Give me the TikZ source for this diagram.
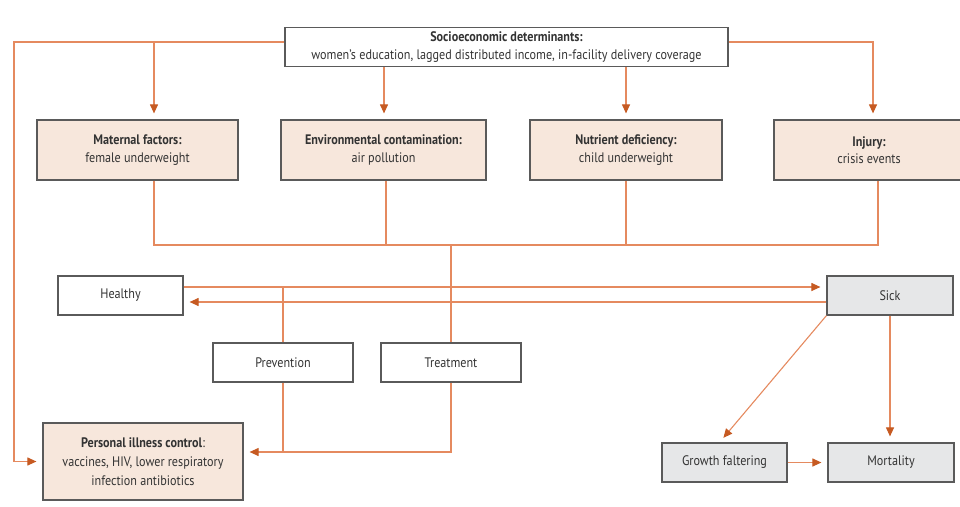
\documentclass[tikz,border=0pt]{standalone}
\usepackage{fontspec}
\setmainfont{PT Sans}[FakeStretch=0.88]
\usetikzlibrary{arrows.meta}

\definecolor{oranje}{HTML}{E58A5F}
\definecolor{punt}{HTML}{C65A22}
\definecolor{rand}{HTML}{5A5A5A}
\definecolor{beige}{HTML}{F7E7DC}
\definecolor{grijs}{HTML}{E6E7E8}
\definecolor{tekst}{HTML}{333333}

\tikzset{
	blok/.style = {draw = rand, line width = 1.2pt, inner sep = 0pt, minimum height = 39pt,
		align = center, text = tekst, font = \fontsize{13.8}{17.5}\selectfont},
	factor/.style = {blok, fill = beige, minimum height = 60pt},
	toestand/.style = {blok, fill = grijs},
	lijn/.style = {draw = oranje, line width = 1.1pt},
	pijl/.style = {lijn, shorten > = 6pt, -{Triangle[length = 9pt, width = 8pt, color = punt]}},
}

\begin{document}
\begin{tikzpicture}[x = 1pt, y = -1pt]
	%	canvas
	\clip (0, 0) rectangle (960, 506);
	
	%	determinanten
	\node[blok, minimum width = 443] (socio) at (506.5, 47)
		{\textbf{Socioeconomic determinants:}\\women’s education, lagged distributed income, in-facility delivery coverage};
	\node[factor, minimum width = 201] (maternal) at (137.5, 150) {\textbf{Maternal factors:}\\female underweight};
	\node[factor, minimum width = 205] (env) at (383.5, 150) {\textbf{Environmental contamination:}\\air pollution};
	\node[factor, minimum width = 192] (nutri) at (626, 150) {\textbf{Nutrient deficiency:}\\child underweight};
	\node[factor, minimum width = 190] (injury) at (869, 150) {\textbf{Injury:}\\crisis events};
	
	%	toestanden
	\node[blok, minimum width = 125] (healthy) at (120.5, 295.5) {Healthy};
	\node[toestand, minimum width = 126] (sick) at (890, 295.5) {Sick};
	\node[blok, minimum width = 140] (prev) at (283, 362.5) {Prevention};
	\node[blok, minimum width = 140] (treat) at (451, 362.5) {Treatment};
	\node[factor, minimum width = 200, minimum height = 77, font = \fontsize{13.8}{19}\selectfont] (personal) at (143, 461.5)
		{\textbf{Personal illness control}:\\vaccines, HIV, lower respiratory\\infection antibiotics};
	\node[toestand, minimum width = 125] (growth) at (724.5, 462.5) {Growth faltering};
	\node[toestand, minimum width = 126] (mort) at (891, 462.5) {Mortality};
	
	%	hulppunten
	\coordinate (links) at (14, 42);
	\coordinate (rechts) at (873, 42);
	\coordinate (verz) at (451, 245);
	\coordinate (mat) at ([xshift = 16.5pt]maternal.north);
	\coordinate (matz) at ([xshift = 16.5pt]maternal.south);
	\coordinate (envn) at ([xshift = 0.5pt]env.north);
	\coordinate (envz) at ([xshift = 2.5pt]env.south);
	\coordinate (inj) at ([xshift = 4pt]injury.north);
	\coordinate (injz) at ([xshift = 9pt]injury.south);
	\coordinate (hs) at ([yshift = 8.5pt]healthy.east);
	\coordinate (onder) at ([yshift = 9.5pt]personal.east);
	
	%	vanuit socio
	\draw[pijl] ([yshift = 5pt]socio.west) -- (links) |- (personal.west);
	\draw[pijl] (mat |- links) -- (mat);
	\draw[pijl] (envn |- socio.south) -- (envn);
	\draw[pijl] (nutri.north |- socio.south) -- (nutri.north);
	\draw[pijl] ([yshift = 5pt]socio.east) -- (rechts) -- (inj);
	
	%	verzamellijn
	\draw[lijn] (matz) |- (verz) -| (injz);
	\draw[lijn] (envz) -- (envz |- verz);
	\draw[lijn] (nutri.south) -- (nutri.south |- verz);
	\draw[lijn] (verz) -- (treat.north);
	
	%	gezond - ziek
	\draw[pijl] (hs) -- (hs -| sick.west);
	\draw[pijl] ([yshift = -6.5pt]sick.west) -- ([yshift = -6.5pt]healthy.east);
	\draw[lijn] (prev.north) -- (prev.north |- hs);
	
	%	naar persoonlijke controle
	\draw[lijn] (prev.south) -- (prev.south |- onder);
	\draw[pijl] (treat.south) |- (onder);
	
	%	gevolgen
	\draw[pijl] (sick.south west) -- ([xshift = -5pt]growth.north);
	\draw[pijl] (sick.south) -- (sick.south |- mort.north);
	\draw[pijl] (growth.east) -- (mort.west);
\end{tikzpicture}
\end{document}
